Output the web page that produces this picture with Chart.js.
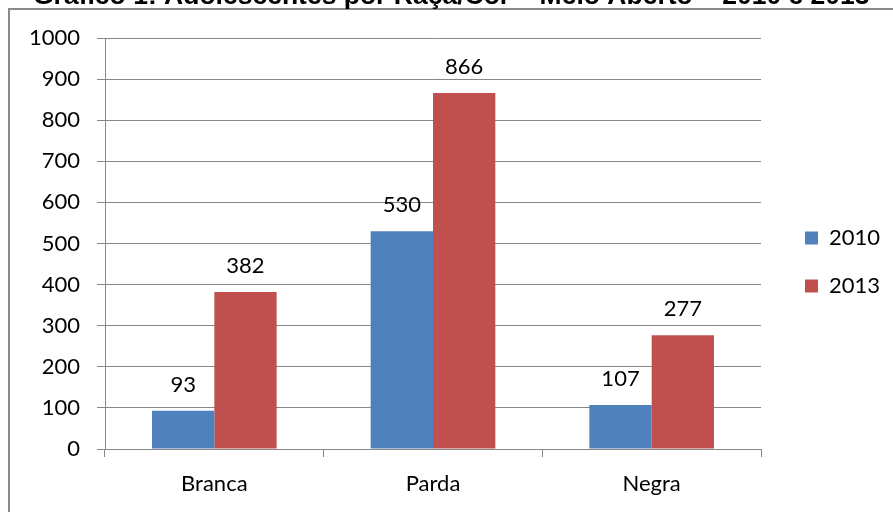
<!DOCTYPE html>
<html><head><meta charset="utf-8">
<script src="https://cdn.jsdelivr.net/npm/chart.js@4"></script>
<style>html,body{margin:0;padding:0;background:#fff;overflow:hidden}#wrap{position:relative;width:893px;height:512px}</style>
</head><body><div id="wrap"><canvas id="c" width="893" height="512"></canvas></div>
<script>
const titleText = 'Gráfico 1: Adolescentes por Raça/Cor – Meio Aberto – 2010 e 2013';
const categories = ['Branca', 'Parda', 'Negra'];
const seriesNames = ['2010', '2013'];
const values2010 = [93, 530, 107];
const values2013 = [382, 866, 277];
const yMin = 0;
const yMax = 1000;
const yStep = 100;

const FONT = 'Lato, "Open Sans", sans-serif';
const GRID = '#878787';

const framePlugin = {
  id: 'frameTitle',
  beforeDraw(chart) {
    const ctx = chart.ctx;
    ctx.save();
    ctx.fillStyle = '#fff';
    ctx.fillRect(0, 0, chart.width, chart.height);
    ctx.strokeStyle = '#8a8a8a';
    ctx.lineWidth = 2;
    ctx.beginPath();
    ctx.moveTo(9, chart.height);
    ctx.lineTo(9, 9);
    ctx.lineTo(chart.width, 9);
    ctx.stroke();
    ctx.fillStyle = '#000';
    ctx.font = 'bold 26.5px "Liberation Sans", Arial, sans-serif';
    ctx.textAlign = 'left';
    ctx.textBaseline = 'alphabetic';
    ctx.fillText(titleText, 33, 4);
    ctx.restore();
  }
};

const valueLabels = {
  id: 'valueLabels',
  afterDatasetsDraw(chart) {
    const ctx = chart.ctx;
    ctx.save();
    ctx.fillStyle = '#000';
    ctx.font = '22px ' + FONT;
    ctx.textAlign = 'center';
    ctx.textBaseline = 'middle';
    chart.data.datasets.forEach((ds, i) => {
      const meta = chart.getDatasetMeta(i);
      meta.data.forEach((bar, j) => {
        ctx.fillText(String(ds.data[j]), bar.x, bar.y - 26);
      });
    });
    ctx.restore();
  }
};

const legendPlace = {
  id: 'legendPlace',
  afterLayout(chart) {
    const lg = chart.legend;
    if (!lg) return;
    const w = lg.width;
    lg.left = 779; lg.right = 779 + w;
    lg.top = 201; lg.bottom = 512;
  }
};

new Chart(document.getElementById('c'), {
  type: 'bar',
  data: {
    labels: categories,
    datasets: [
      { label: seriesNames[0], data: values2010, backgroundColor: '#4F81BD' },
      { label: seriesNames[1], data: values2013, backgroundColor: '#C0504D' }
    ]
  },
  options: {
    responsive: false,
    animation: false,
    devicePixelRatio: 1,
    categoryPercentage: 0.57,
    barPercentage: 1,
    layout: { padding: { top: 38, right: 132, bottom: 0, left: 0 } },
    plugins: {
      legend: {
        position: 'chartArea',
        align: 'start',
        labels: { boxWidth: 13, boxHeight: 13, padding: 26, color: '#000', font: { family: FONT, size: 22 } }
      },
      tooltip: { enabled: false },
      title: { display: false }
    },
    scales: {
      x: {
        grid: { display: true, drawOnChartArea: false, drawTicks: true, tickLength: 8, color: GRID, offset: true },
        border: { color: GRID },
        ticks: { color: '#000', font: { family: FONT, size: 22 }, padding: 14 },
        afterFit(s) { s.height = 63; }
      },
      y: {
        min: yMin, max: yMax,
        grid: { color: GRID, tickLength: 8 },
        border: { color: GRID },
        ticks: { stepSize: yStep, color: '#000', font: { family: FONT, size: 22 }, padding: 17,
                 callback: (v) => String(v) },
        afterFit(s) { s.width = 105; }
      }
    }
  },
  plugins: [framePlugin, valueLabels, legendPlace]
});
</script>
</body></html>
